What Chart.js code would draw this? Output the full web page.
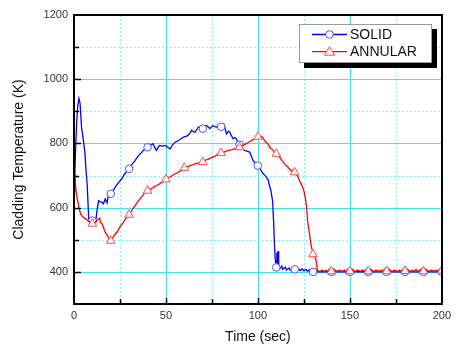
<!DOCTYPE html>
<html>
<head>
<meta charset="utf-8">
<style>
  html, body { margin: 0; padding: 0; background: #fff; }
  #wrap { width: 456px; height: 344px; }
</style>
<script src="https://cdn.jsdelivr.net/npm/chart.js@4.4.0/dist/chart.umd.js"></script>
</head>
<body>
<div id="wrap"><canvas id="chart" width="456" height="344"></canvas></div>
<script>
// Cladding temperature vs time, SOLID vs ANNULAR fuel
var SERIES_NAMES = ['SOLID', 'ANNULAR'];

var solidTime = [0, 0.5, 1, 1.5, 2, 2.7, 3.3, 4.1, 5, 5.9, 6.5, 7.2, 8, 9, 10, 11, 11.7, 12.5, 13.4, 14.3,
  15.2, 16, 17, 18, 18.8, 20, 21, 22, 23, 24.3, 26, 27.5, 30, 31.5, 33, 35, 36.5, 38, 39, 40,
  41, 43, 44, 44.8, 46, 46.6, 48, 49.5, 51, 52.3, 53.5, 55, 57, 59.5, 61, 62, 63, 64, 65, 65.8,
  67, 67.6, 69, 70, 71, 72, 73, 73.9, 75, 75.7, 76.5, 77.5, 78.5, 79.5, 80, 80.5, 81.6, 82.2, 82.9, 84,
  84.7, 85.5, 86.5, 87.5, 88.3, 89, 90, 91, 92, 92.8, 94, 95.5, 96.5, 97.3, 98.5, 100, 101, 102, 103, 104,
  104.5, 105.5, 106.3, 107, 108, 108.5, 109, 109.4, 110, 110.3, 110.6, 111, 111.3, 112, 113, 113.5, 115, 115.5, 117, 117.5,
  119, 120, 121, 122, 123, 124, 125, 126, 127, 128, 129, 130, 135, 140, 145, 150, 155, 160, 165, 170,
  175, 180, 185, 190, 195, 200];
var solidTemp = [650, 720, 800, 870, 915, 940, 925, 850, 815, 773, 720, 669, 565, 559, 560, 556, 554, 590, 622, 618,
  617, 612, 627, 615, 643, 643, 650, 660, 669, 679, 690, 705, 721, 735, 745, 762, 770, 780, 787, 788,
  792, 799, 786, 778, 790, 794, 792, 794, 788, 783, 795, 804, 810, 820, 822, 825, 832, 841, 836, 835,
  845, 851, 848, 846, 852, 856, 851, 846, 853, 856, 852, 851, 855, 856, 852, 850, 858, 845, 830, 838,
  835, 825, 815, 818, 815, 805, 796, 792, 782, 778, 776, 773, 760, 747, 740, 731, 725, 712, 705, 700,
  695, 688, 669, 655, 620, 560, 487, 440, 414, 460, 415, 465, 412, 410, 418, 408, 415, 406, 412, 405,
  408, 408, 406, 410, 404, 409, 403, 408, 402, 407, 401, 400, 401, 400, 400, 400, 401, 400, 400, 400,
  400, 400, 400, 400, 400, 400];

var annularTime = [0, 0.5, 1, 1.8, 2.7, 3.6, 5, 6.3, 8, 9.5, 10, 11, 11.7, 12.5, 13.4, 14, 14.4, 15.3, 17, 18.5,
  20, 21, 22, 23.5, 25, 26.5, 28, 30, 31.5, 33, 34.5, 36, 37.5, 38.7, 40, 41.5, 43, 44, 45, 46.5,
  48, 50, 51.5, 53, 54.5, 56, 57.5, 58.5, 60, 61.5, 63, 64.5, 66, 67.5, 70, 71.5, 73, 74.5, 76, 77.5,
  78.4, 80, 81.5, 83, 84.5, 86, 87.5, 90, 91.5, 93, 94.5, 96.4, 97.5, 99, 100, 101, 102, 103, 104, 105.4,
  106.5, 108, 110, 111.5, 112.5, 114.4, 116, 117, 118, 120, 121.5, 123, 124, 125, 125.8, 126.5, 127, 128, 128.8, 130,
  131.5, 132.4, 134, 135, 136, 137, 138, 140, 141.5, 143, 144, 146, 147, 148, 150, 151.5, 153, 154, 156, 157,
  158, 160, 161.5, 163, 164, 166, 167, 168, 170, 171.5, 173, 174, 176, 177, 178, 180, 181.5, 183, 184, 185,
  186, 187, 188, 190, 191.5, 193, 194, 196, 197, 198, 200];
var annularTemp = [660, 705, 658, 627, 600, 580, 570, 565, 558, 552, 550, 552, 554, 560, 565, 568, 554, 550, 523, 510,
  497, 505, 515, 525, 540, 552, 565, 578, 592, 605, 617, 628, 638, 648, 653, 658, 662, 667, 669, 674,
  680, 688, 694, 698, 704, 708, 714, 716, 724, 726, 731, 733, 737, 739, 742, 748, 751, 755, 758, 764,
  768, 770, 773, 776, 779, 781, 784, 788, 793, 797, 802, 809, 812, 815, 821, 819, 822, 815, 806, 799,
  788, 780, 768, 760, 752, 737, 728, 722, 716, 710, 698, 680, 668, 653, 630, 600, 559, 520, 487, 455,
  440, 403, 402, 406, 401, 405, 402, 402, 407, 401, 405, 402, 406, 401, 402, 407, 401, 405, 402, 406,
  401, 402, 407, 401, 405, 402, 406, 401, 402, 407, 401, 405, 402, 406, 401, 403, 407, 401, 405, 402,
  408, 401, 406, 402, 407, 401, 405, 402, 406, 401, 404];

var X_MIN = 0, X_MAX = 200, X_STEP = 25;
var Y_MIN = 300, Y_MAX = 1200;
var Y_TICKS = [400, 500, 600, 700, 800, 900, 1000, 1100, 1200];

var GRID_MAJOR = '#3fe3ee';
var GRID_MINOR = '#86eef4';
var FONT = '"Liberation Sans", Arial, sans-serif';

function toPoints(ts, vs) {
  return ts.map(function (t, i) { return { x: t, y: vs[i] }; });
}

// markers only every 10 s
function markerRadius(r) {
  return function (c) {
    var p = c.raw;
    if (!p) return 0;
    return (p.x > 0 && p.x % 10 === 0) ? r : 0;
  };
}

var gridPlugin = {
  id: 'gridFrame',
  beforeDatasetsDraw: function (chart) {
    var ctx = chart.ctx, a = chart.chartArea;
    var xs = chart.scales.x, ys = chart.scales.y;
    ctx.save();
    ctx.lineWidth = 1;
    xs.ticks.forEach(function (t) {
      if (t.value <= X_MIN || t.value >= X_MAX) return;
      var px = Math.round(xs.getPixelForValue(t.value)) + 0.5;
      var major = t.value % 50 === 0;
      ctx.strokeStyle = major ? GRID_MAJOR : GRID_MINOR;
      ctx.setLineDash(major ? [] : [2, 2]);
      ctx.beginPath(); ctx.moveTo(px, a.top); ctx.lineTo(px, a.bottom); ctx.stroke();
    });
    ys.ticks.forEach(function (t) {
      if (t.value <= Y_MIN || t.value >= Y_MAX) return;
      var py = Math.round(ys.getPixelForValue(t.value)) + 0.5;
      var major = t.value % 200 === 0;
      ctx.strokeStyle = major ? GRID_MAJOR : GRID_MINOR;
      ctx.setLineDash(major ? [] : [2, 2]);
      ctx.beginPath(); ctx.moveTo(a.left, py); ctx.lineTo(a.right, py); ctx.stroke();
    });
    ctx.restore();
  },
  afterDatasetsDraw: function (chart) {
    var ctx = chart.ctx, a = chart.chartArea;
    var xs = chart.scales.x, ys = chart.scales.y;
    ctx.save();
    ctx.strokeStyle = '#000';
    // inward tick marks
    ctx.lineWidth = 1.5;
    xs.ticks.forEach(function (t) {
      if (t.value <= X_MIN || t.value >= X_MAX) return;
      var px = Math.round(xs.getPixelForValue(t.value)) + 0.5;
      var len = t.value % 50 === 0 ? 6 : 5;
      ctx.beginPath(); ctx.moveTo(px, a.bottom); ctx.lineTo(px, a.bottom - len); ctx.stroke();
    });
    ys.ticks.forEach(function (t) {
      if (t.value <= Y_MIN || t.value >= Y_MAX) return;
      var py = Math.round(ys.getPixelForValue(t.value)) + 0.5;
      var len = t.value % 200 === 0 ? 7 : 5;
      ctx.beginPath(); ctx.moveTo(a.left, py); ctx.lineTo(a.left + len, py); ctx.stroke();
    });
    // frame
    ctx.lineWidth = 2;
    ctx.strokeRect(Math.round(a.left), Math.round(a.top), Math.round(a.right - a.left), Math.round(a.bottom - a.top));
    ctx.restore();
  },
  afterDraw: function (chart) {
    // legend box with drop shadow, built from the datasets
    var ctx = chart.ctx;
    var bx = 299, by = 24, bw = 133, bh = 39, sh = 5;
    ctx.save();
    ctx.fillStyle = '#000';
    ctx.fillRect(bx + sh, by + sh, bw, bh);
    ctx.fillStyle = '#fff';
    ctx.fillRect(bx, by, bw, bh);
    ctx.strokeStyle = '#9a9a9a';
    ctx.lineWidth = 1;
    ctx.strokeRect(bx + 0.5, by + 0.5, bw - 1, bh - 1);
    var entries = chart.data.datasets.slice().sort(function (p, q) { return p.legendIndex - q.legendIndex; });
    entries.forEach(function (ds, i) {
      var y = by + 10.5 + i * 17.2;
      ctx.strokeStyle = ds.borderColor;
      ctx.lineWidth = 1.3;
      ctx.beginPath(); ctx.moveTo(312, y); ctx.lineTo(347, y); ctx.stroke();
      var cx = 329.5;
      ctx.fillStyle = '#fff';
      ctx.strokeStyle = ds.pointBorderColor;
      ctx.lineWidth = 1;
      ctx.beginPath();
      if (ds.pointStyle === 'triangle') {
        ctx.moveTo(cx, y - 5); ctx.lineTo(cx + 5, y + 3.5); ctx.lineTo(cx - 5, y + 3.5); ctx.closePath();
      } else {
        ctx.arc(cx, y, 3.8, 0, Math.PI * 2);
      }
      ctx.fill(); ctx.stroke();
      ctx.fillStyle = '#111';
      ctx.font = '14px ' + FONT;
      ctx.textBaseline = 'middle';
      ctx.textAlign = 'left';
      ctx.fillText(ds.label, 350, y + 0.5);
    });
    ctx.restore();
  }
};

new Chart(document.getElementById('chart'), {
  type: 'line',
  data: {
    datasets: [{
      label: SERIES_NAMES[0],
      legendIndex: 0,
      order: 1,
      data: toPoints(solidTime, solidTemp),
      borderColor: '#0000ff',
      borderWidth: 1.3,
      pointStyle: 'circle',
      pointRadius: markerRadius(3.8),
      pointBorderColor: '#4d4dff',
      pointBackgroundColor: '#ffffff',
      pointBorderWidth: 1,
      tension: 0
    }, {
      label: SERIES_NAMES[1],
      legendIndex: 1,
      order: 0,
      data: toPoints(annularTime, annularTemp),
      borderColor: '#ff0000',
      borderWidth: 1.3,
      pointStyle: 'triangle',
      pointRadius: markerRadius(5),
      pointBorderColor: '#ff4a4a',
      pointBackgroundColor: '#ffffff',
      pointBorderWidth: 1,
      tension: 0
    }]
  },
  options: {
    animation: false,
    responsive: false,
    devicePixelRatio: 1,
    layout: { padding: { left: 0, right: 10, top: 15, bottom: 0 } },
    plugins: { legend: { display: false }, tooltip: { enabled: false } },
    scales: {
      x: {
        type: 'linear',
        min: X_MIN, max: X_MAX,
        grid: { display: false, drawTicks: false },
        border: { display: false },
        ticks: {
          stepSize: X_STEP, autoSkip: false, maxRotation: 0, padding: 5,
          color: '#333', font: { family: FONT, size: 11 },
          callback: function (v) { return v % 50 === 0 ? String(v) : ''; }
        },
        title: {
          display: true, text: 'Time (sec)', color: '#111',
          font: { family: FONT, size: 14, lineHeight: 1 }, padding: { top: 0, bottom: 0 }
        },
        afterFit: function (s) { s.height = 40; }
      },
      y: {
        type: 'linear',
        min: Y_MIN, max: Y_MAX,
        grid: { display: false, drawTicks: false },
        border: { display: false },
        afterBuildTicks: function (s) { s.ticks = Y_TICKS.map(function (v) { return { value: v }; }); },
        ticks: {
          padding: 6, color: '#333', font: { family: FONT, size: 11 },
          callback: function (v) { return v % 200 === 0 ? String(v) : ''; }
        },
        title: {
          display: true, text: 'Cladding Temperature (K)', color: '#111',
          font: { family: FONT, size: 14 }, padding: { top: 11, bottom: 0 }
        },
        afterFit: function (s) { s.width = 74; }
      }
    }
  },
  plugins: [gridPlugin]
});
</script>
</body>
</html>
